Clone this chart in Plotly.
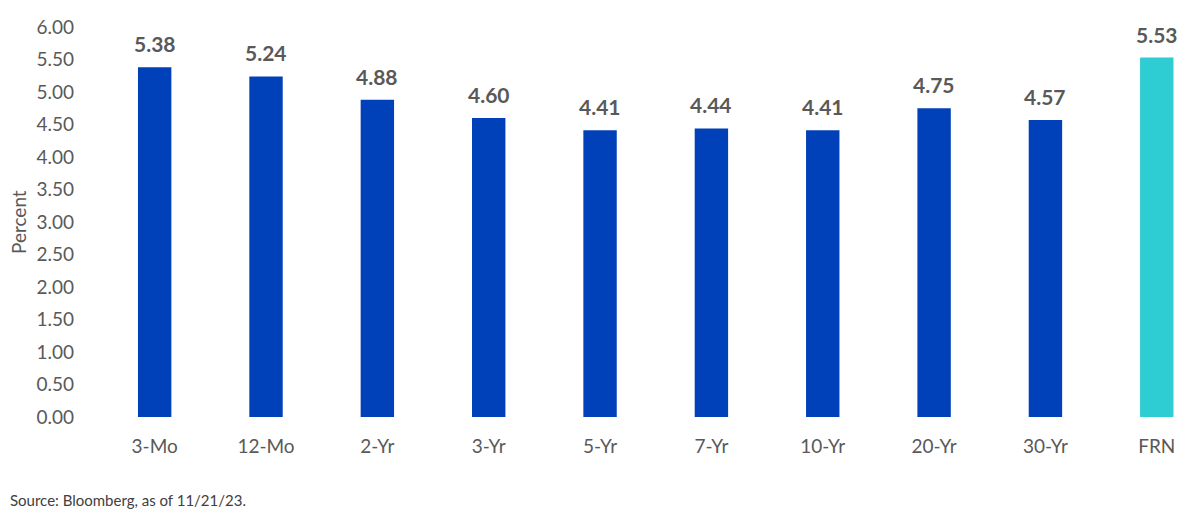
import plotly.graph_objects as go

# datos
categories = ["3-Mo", "12-Mo", "2-Yr", "3-Yr", "5-Yr", "7-Yr", "10-Yr", "20-Yr", "30-Yr", "FRN"]
yields = [5.38, 5.24, 4.88, 4.60, 4.41, 4.44, 4.41, 4.75, 4.57, 5.53]
y_ticks = [0, 0.5, 1, 1.5, 2, 2.5, 3, 3.5, 4, 4.5, 5, 5.5, 6]

BLUE = "#0041B9"
TEAL = "#2ECCD3"
GREY = "#595959"
FONT = "Lato, Noto Sans, sans-serif"

# la página desplaza el gráfico ~8px, se compensa en los márgenes
L, T, B = 91, 19, 116
PLOT_W = 1200 - L
PLOT_H = 525 - T - B

bar_colors = [TEAL if c == "FRN" else BLUE for c in categories]

fig = go.Figure()
fig.add_trace(go.Bar(
    x=categories,
    y=yields,
    marker=dict(color=bar_colors, line=dict(width=0)),
    width=0.3,
    hoverinfo="x+y",
))

# etiquetas de valor sobre las barras
annotations = [
    dict(
        x=c, y=v, text=f"<b>{v:.2f}</b>",
        xref="x", yref="y", showarrow=False,
        yanchor="bottom", yshift=9,
        font=dict(family=FONT, size=21, color=GREY),
    )
    for c, v in zip(categories, yields)
]

annotations.append(dict(
    text="Percent",
    xref="paper", yref="paper",
    x=(10 - L) / PLOT_W, y=0.5,
    xanchor="center", yanchor="middle",
    textangle=-90, showarrow=False,
    font=dict(family=FONT, size=19, color=GREY),
))

annotations.append(dict(
    text="Source: Bloomberg, as of 11/21/23.",
    xref="paper", yref="paper",
    x=-L / PLOT_W, y=-83 / PLOT_H,
    xanchor="left", yanchor="middle",
    showarrow=False,
    font=dict(family=FONT, size=15, color="#404040"),
))

fig.update_layout(
    width=1200,
    height=525,
    margin=dict(l=L, r=0, t=T, b=B),
    plot_bgcolor="white",
    paper_bgcolor="white",
    showlegend=False,
    font=dict(family=FONT, color=GREY),
    xaxis=dict(
        range=[-0.5, 9.46],
        showline=False,
        showgrid=False,
        ticks="",
        tickfont=dict(size=19, color=GREY),
        ticklabelstandoff=16,
    ),
    yaxis=dict(
        range=[0, 6],
        tickvals=y_ticks,
        tickformat=".2f",
        showgrid=False,
        zeroline=False,
        showline=False,
        tickfont=dict(size=19, color=GREY),
        ticklabelstandoff=24,
    ),
    annotations=annotations,
)

fig.write_html("out.html")
